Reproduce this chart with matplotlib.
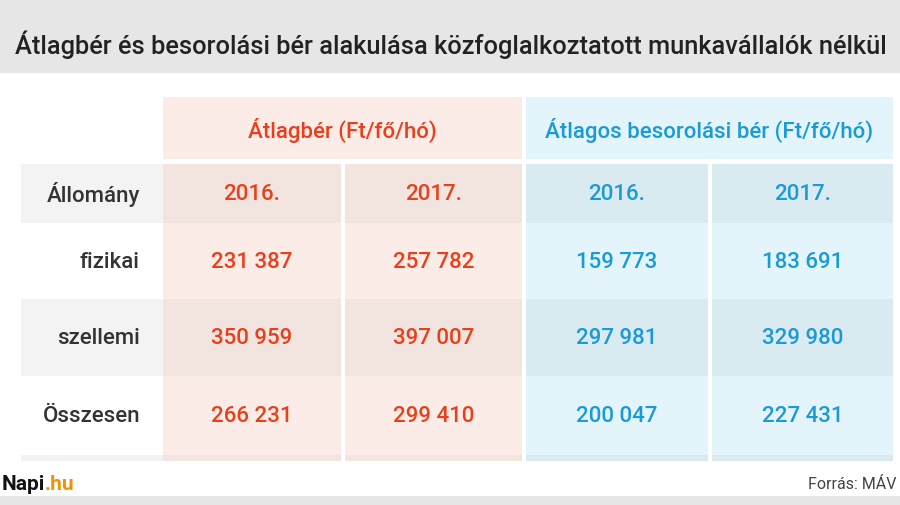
import matplotlib
matplotlib.use("Agg")
import matplotlib.pyplot as plt
from matplotlib.patches import Rectangle

title = "Átlagbér és besorolási bér alakulása közfoglalkoztatott munkavállalók nélkül"
group_headers = ["Átlagbér (Ft/fő/hó)", "Átlagos besorolási bér (Ft/fő/hó)"]
years = ["2016.", "2017.", "2016.", "2017."]
row_label_header = "Állomány"
categories = ["fizikai", "szellemi", "Összesen"]
atlagber_2016 = ["231 387", "350 959", "266 231"]
atlagber_2017 = ["257 782", "397 007", "299 410"]
besorolasi_2016 = ["159 773", "297 981", "200 047"]
besorolasi_2017 = ["183 691", "329 980", "227 431"]
source = "Forrás: MÁV"

plt.rcParams['font.family'] = ['Roboto', 'DejaVu Sans']
fig = plt.figure(figsize=(9, 5.06), dpi=100)
ax = fig.add_axes([0, 0, 1, 1])
ax.set_xlim(0, 900); ax.set_ylim(506, 0); ax.axis('off')

ORANGE = "#e8401c"; BLUE = "#1a9ad6"; DARK = "#333333"
W = 'medium'
FS = 16
def rect(x0, y0, x1, y1, c):
    ax.add_patch(Rectangle((x0, y0), x1 - x0, y1 - y0, color=c, lw=0))

rect(0, 0, 900, 74, "#e6e6e6")
ax.text(451, 45, title, ha='center', va='center', fontsize=18.3, fontweight=W, color="#222222")
rect(0, 497, 900, 506, "#e6e6e6")

col_edges = [(163, 341), (345, 522), (526, 708), (712, 893)]
row_edges = [(165, 224), (224, 300), (300, 377), (377, 456)]
gray_rows = [0, 2]
for i, (x0, x1) in enumerate(col_edges):
    rect(x0, 98, x1, 462, "#fbece7" if i < 2 else "#e3f5fa")
for r in gray_rows:
    y0, y1 = row_edges[r]
    rect(21, y0, 163, y1, "#f3f3f3")
    for i, (x0, x1) in enumerate(col_edges):
        rect(x0, y0, x1, y1, "#f2e4df" if i < 2 else "#d9eaf1")
rect(21, 456, 163, 462, "#f3f3f3")
for i, (x0, x1) in enumerate(col_edges):
    rect(x0, 456, x1, 462, "#f2e4df" if i < 2 else "#d9eaf1")
rect(0, 160, 900, 165, "white")
rect(341, 98, 345, 160, "#fbece7")
rect(708, 98, 712, 160, "#e3f5fa")

ax.text(342, 130, group_headers[0], ha='center', va='center', fontsize=FS, fontweight=W, color=ORANGE)
ax.text(709, 130, group_headers[1], ha='center', va='center', fontsize=FS, fontweight=W, color=BLUE)

centers = [(x0 + x1) / 2 for x0, x1 in col_edges]
yc = [(a + b) / 2 for a, b in row_edges]
ax.text(140, yc[0], row_label_header, ha='right', va='center', fontsize=FS, fontweight=W, color=DARK)
for i, y in enumerate(years):
    ax.text(centers[i], yc[0], y, ha='center', va='center', fontsize=FS, fontweight=W,
            color=ORANGE if i < 2 else BLUE)
cols = [atlagber_2016, atlagber_2017, besorolasi_2016, besorolasi_2017]
for r, cat in enumerate(categories):
    y = yc[r + 1]
    ax.text(140, y, cat, ha='right', va='center', fontsize=FS, fontweight=W, color=DARK)
    for i, col in enumerate(cols):
        ax.text(centers[i], y, col[r], ha='center', va='center', fontsize=FS, fontweight=W,
                color=ORANGE if i < 2 else BLUE)

t = ax.text(2, 485, "Napi", ha='left', va='center', fontsize=15, fontweight='bold', color="#111111")
ax.annotate(".hu", xycoords=t, xy=(1, 0.5), ha='left', va='center', fontsize=15,
            fontweight='bold', color="#f39200")
ax.text(897, 485, source, ha='right', va='center', fontsize=11.5, color="#444444")

fig.savefig("out.png", dpi=100)
